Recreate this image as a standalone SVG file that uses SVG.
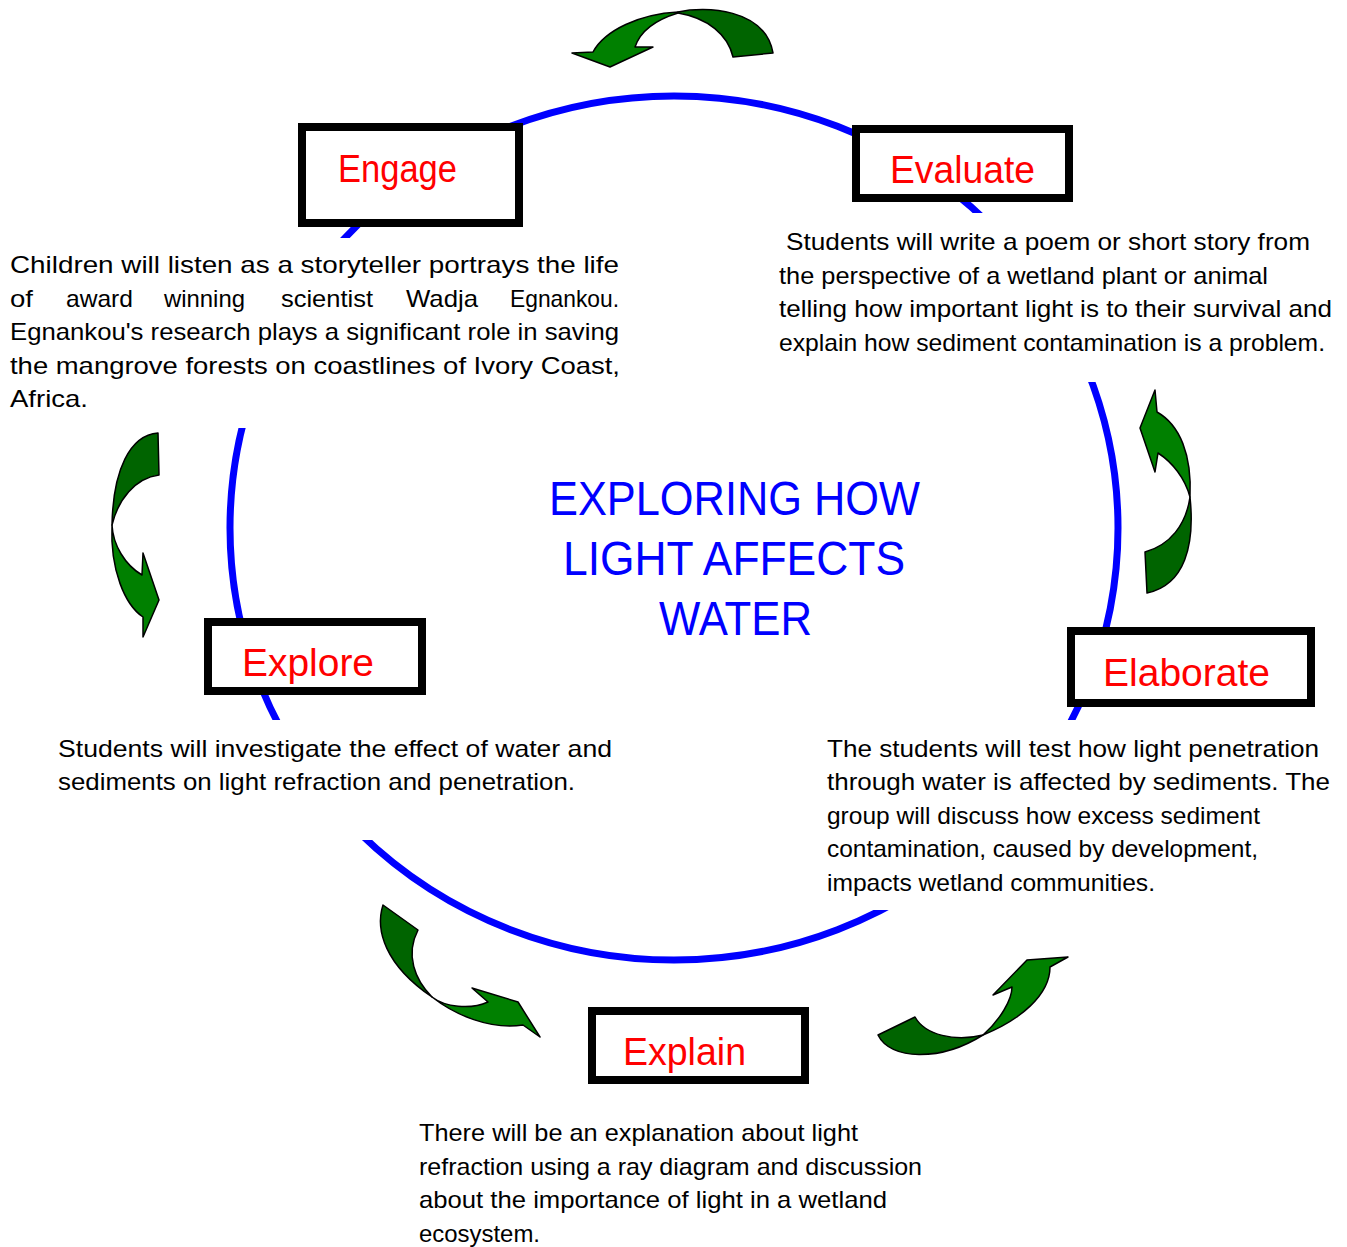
<svg xmlns="http://www.w3.org/2000/svg" width="1347" height="1247" viewBox="0 0 1347 1247">
<style>
.body{font-family:"Liberation Sans",Arial,sans-serif;font-size:24px;fill:#000}
.label{font-family:"Liberation Sans",Arial,sans-serif;font-size:38px;fill:#ff0000}
.title{font-family:"Liberation Sans",Arial,sans-serif;font-size:48px;fill:#0000ff}
.box{fill:#fff;stroke:#000;stroke-width:8}
.bg{fill:#fff}
.dk{fill:#006400;stroke:#000;stroke-width:1.5;stroke-linejoin:round}
.lt{fill:#008000;stroke:#000;stroke-width:1.5;stroke-linejoin:round}
</style>
<rect width="1347" height="1247" fill="#fff"/>
<g id="connectors">
<ellipse cx="674" cy="528" rx="444" ry="432" fill="none" stroke="#0000ff" stroke-width="7"/>
<g id="arrow-top">
<path class="dk" d="M678,12 C705,6 765,8 773,53 L733,57 C728,35 708,18 678,13 Z"/>
<path class="lt" d="M678,12 C640,14 605,30 593,52 L572,53 L610,67 L653,47 L635,47 C640,32 655,20 678,13 Z"/>
</g>
<g id="arrow-right">
<path class="lt" d="M1155,390 L1140,428 L1155,472 L1158,453 C1172,462 1185,478 1190,497 C1192,455 1180,425 1157,412 Z"/>
<path class="dk" d="M1190,497 C1195,545 1185,585 1147,593 L1145,552 C1170,545 1186,525 1190,497 Z"/>
</g>
<g id="arrow-left">
<path class="dk" d="M158,433 C130,435 113,470 112,525 C118,500 135,478 159,475 Z"/>
<path class="lt" d="M112,525 C110,570 125,605 143,617 L143,637 L159,600 L143,553 L142,575 C125,565 113,545 112,525 Z"/>
</g>
<g id="arrow-bottom-left">
<path class="dk" d="M383,905 C375,930 385,965 432,997 C415,980 405,955 418,930 Z"/>
<path class="lt" d="M432,997 C455,1015 490,1030 523,1025 L540,1037 L518,1002 L472,988 L488,1002 C470,1010 445,1007 432,997 Z"/>
</g>
<g id="arrow-bottom-right">
<path class="dk" d="M878,1035 C890,1060 940,1062 983,1035 C955,1042 925,1035 915,1017 Z"/>
<path class="lt" d="M983,1035 C1000,1020 1012,1000 1012,987 L993,995 L1027,960 L1068,957 L1050,967 C1050,995 1020,1020 983,1035 Z"/>
</g>
</g>
<g id="engage">
<rect class="bg" x="0" y="238" width="626" height="190"/>
<rect class="box" x="302" y="127" width="217" height="96"/>
<text class="label" x="338" y="182" textLength="119" lengthAdjust="spacingAndGlyphs">Engage</text>
<text class="body" x="10" y="273" textLength="609" lengthAdjust="spacingAndGlyphs">Children will listen as a storyteller portrays the life</text>
<text class="body" y="307"><tspan x="10" textLength="23" lengthAdjust="spacingAndGlyphs">of</tspan><tspan x="66" textLength="67" lengthAdjust="spacingAndGlyphs">award</tspan><tspan x="164" textLength="81" lengthAdjust="spacingAndGlyphs">winning</tspan><tspan x="281" textLength="92" lengthAdjust="spacingAndGlyphs">scientist</tspan><tspan x="406" textLength="72" lengthAdjust="spacingAndGlyphs">Wadja</tspan><tspan x="510" textLength="109" lengthAdjust="spacingAndGlyphs">Egnankou.</tspan></text>
<text class="body" x="10" y="340" textLength="609" lengthAdjust="spacingAndGlyphs">Egnankou's research plays a significant role in saving</text>
<text class="body" x="10" y="374" textLength="610" lengthAdjust="spacingAndGlyphs">the mangrove forests on coastlines of Ivory Coast,</text>
<text class="body" x="10" y="407" textLength="78" lengthAdjust="spacingAndGlyphs">Africa.</text>
</g>
<g id="evaluate">
<rect class="bg" x="770" y="213" width="570" height="169"/>
<rect class="box" x="856" y="129" width="213" height="69"/>
<text class="label" x="890" y="183" textLength="145" lengthAdjust="spacingAndGlyphs">Evaluate</text>
<text class="body" x="786" y="250" textLength="524" lengthAdjust="spacingAndGlyphs">Students will write a poem or short story from</text>
<text class="body" x="779" y="284" textLength="489" lengthAdjust="spacingAndGlyphs">the perspective of a wetland plant or animal</text>
<text class="body" x="779" y="317" textLength="553" lengthAdjust="spacingAndGlyphs">telling how important light is to their survival and</text>
<text class="body" x="779" y="351" textLength="546" lengthAdjust="spacingAndGlyphs">explain how sediment contamination is a problem.</text>
</g>
<g id="explore">
<rect class="bg" x="50" y="720" width="570" height="120"/>
<rect class="box" x="208" y="622" width="214" height="69"/>
<text class="label" x="242" y="676" textLength="132" lengthAdjust="spacingAndGlyphs">Explore</text>
<text class="body" x="58" y="757" textLength="554" lengthAdjust="spacingAndGlyphs">Students will investigate the effect of water and</text>
<text class="body" x="58" y="790" textLength="517" lengthAdjust="spacingAndGlyphs">sediments on light refraction and penetration.</text>
</g>
<g id="elaborate">
<rect class="bg" x="820" y="720" width="520" height="190"/>
<rect class="box" x="1071" y="631" width="240" height="72"/>
<text class="label" x="1103" y="686" textLength="167" lengthAdjust="spacingAndGlyphs">Elaborate</text>
<text class="body" x="827" y="757" textLength="492" lengthAdjust="spacingAndGlyphs">The students will test how light penetration</text>
<text class="body" x="827" y="790" textLength="503" lengthAdjust="spacingAndGlyphs">through water is affected by sediments. The</text>
<text class="body" x="827" y="824" textLength="433" lengthAdjust="spacingAndGlyphs">group will discuss how excess sediment</text>
<text class="body" x="827" y="857" textLength="431" lengthAdjust="spacingAndGlyphs">contamination, caused by development,</text>
<text class="body" x="827" y="891" textLength="328" lengthAdjust="spacingAndGlyphs">impacts wetland communities.</text>
</g>
<g id="explain">
<rect class="box" x="592" y="1011" width="213" height="69"/>
<text class="label" x="623" y="1065" textLength="123" lengthAdjust="spacingAndGlyphs">Explain</text>
<text class="body" x="419" y="1141" textLength="439" lengthAdjust="spacingAndGlyphs">There will be an explanation about light</text>
<text class="body" x="419" y="1175" textLength="503" lengthAdjust="spacingAndGlyphs">refraction using a ray diagram and discussion</text>
<text class="body" x="419" y="1208" textLength="468" lengthAdjust="spacingAndGlyphs">about the importance of light in a wetland</text>
<text class="body" x="419" y="1242" textLength="121" lengthAdjust="spacingAndGlyphs">ecosystem.</text>
</g>
<g id="title">
<text class="title" x="549" y="515" textLength="371" lengthAdjust="spacingAndGlyphs">EXPLORING HOW</text>
<text class="title" x="563" y="575" textLength="342" lengthAdjust="spacingAndGlyphs">LIGHT AFFECTS</text>
<text class="title" x="659" y="635" textLength="153" lengthAdjust="spacingAndGlyphs">WATER</text>
</g>
</svg>
